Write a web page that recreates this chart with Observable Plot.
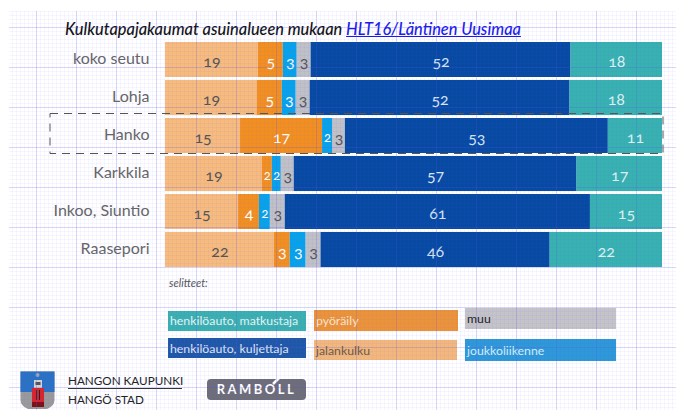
<!DOCTYPE html>
<html><head><meta charset="utf-8">
<script src="https://cdn.jsdelivr.net/npm/d3@7"></script>
<script src="https://cdn.jsdelivr.net/npm/@observablehq/plot@0.6"></script>
<style>
html,body{margin:0;padding:0;background:#fff}
#page{position:relative;width:676px;height:410px;overflow:hidden;font-family:Lato,sans-serif}
#chart{position:absolute;left:0;top:0}
#title{position:absolute;left:65px;top:19px;font:italic 500 16.35px Lato,sans-serif;color:#111;white-space:nowrap}
#title a{color:#1a1aee;text-decoration:underline}
#sel{position:absolute;left:169px;top:276px;font:italic 11px Lato,sans-serif;color:#555}
.lg{position:absolute;box-sizing:border-box;font-size:12.3px;padding-left:2px;display:flex;align-items:center;white-space:nowrap}
#grid{position:absolute;left:9px;top:11px;right:0;bottom:0;pointer-events:none;
background-image:
linear-gradient(to right,rgba(90,80,240,.2) 1px,transparent 1px),
linear-gradient(to bottom,rgba(90,80,240,.2) 1px,transparent 1px),
linear-gradient(to right,rgba(90,80,240,.05) 1px,transparent 1px),
linear-gradient(to bottom,rgba(90,80,240,.05) 1px,transparent 1px);
background-size:40px 40px,40px 40px,4px 4px,4px 4px;
background-position:27px 0,0 16px,3px 0,0 0}
#org{position:absolute;left:68px;top:372px;width:114px;font-size:11.7px;color:#222}
#org div{height:16px;line-height:16px;white-space:nowrap}
#org div:first-child{border-bottom:1px solid #333;padding-bottom:0}
#org div:last-child{padding-top:2px}
#ram{position:absolute;left:207px;top:379px;width:99px;height:21px;border-radius:4px;background:#6d6e78;color:#fff;font:700 13px Lato,sans-serif;letter-spacing:2.5px;text-align:center;line-height:21px}
</style></head><body>
<div id="page">
<div id="chart"></div>
<div id="title">Kulkutapajakaumat asuinalueen mukaan <a href="#">HLT16/Läntinen Uusimaa</a></div>
<div id="sel">selitteet:</div>
<div id="legend"></div>
<div id="org"><div>HANGON KAUPUNKI</div><div>HANGÖ STAD</div></div>
<div id="ram">RAMBOLL</div>
<svg style="position:absolute;left:0;top:0;pointer-events:none" width="676" height="410">
<rect x="50" y="113.5" width="613" height="40" fill="none" stroke="#555" stroke-width="1" stroke-dasharray="8 6"/>
<path d="M273 384L281 376" stroke="#fff" stroke-width="2.5"/>
<g>
<path d="M20.5 371.5H54.5V400Q54.5 406 47 409H28Q20.5 406 20.5 400Z" fill="#9a9a9a"/>
<path d="M20.5 371.5H54.5V392H20.5Z" fill="#2a72c4"/>
<circle cx="37.5" cy="375" r="2" fill="#9aa8b8"/>
<rect x="34" y="380" width="8" height="8" fill="#d4d4d4"/>
<rect x="35.5" y="382" width="5" height="3" fill="#555"/>
<rect x="32" y="388" width="12" height="14" fill="#d8242c"/>
<rect x="36" y="390" width="1" height="10" fill="#222"/><rect x="39" y="390" width="1" height="10" fill="#222"/>
<rect x="32" y="402" width="12" height="5" fill="#7a1216"/>
</g>
</svg>
<div id="grid"></div>
</div>
<script>
const areas = ["koko seutu","Lohja","Hanko","Karkkila","Inkoo, Siuntio","Raasepori"];
const modes = ["jalankulku","pyöräily","joukkoliikenne","muu","henkilöauto, kuljettaja","henkilöauto, matkustaja"];
const colors = ["#f7bb7e","#f28f20","#08a2ea","#c0c1c7","#064aa2","#38b1b1"];
const inkColors = ["#555","#fff","#fff","#555","#d8e4f2","#dff2f1"];
// segment widths as measured in the picture (percent of bar)
const jalankulku = [18.7,18.5,15.1,19.5,14.7,21.9];
const pyoraily   = [5.0,5.0,16.5,2.0,4.2,3.2];
const joukko     = [2.8,2.8,2.0,1.8,2.2,3.2];
const muu        = [2.8,2.8,2.6,2.6,3.0,3.0];
const kuljettaja = [52.3,52.3,52.9,56.9,61.4,46.1];
const matkustaja = [18.4,18.6,10.9,17.2,14.5,22.6];
// printed labels
const lblJalan = [19,19,15,19,15,22];
const lblPyora = [5,5,17,2,4,3];
const lblJouk  = [3,3,2,2,2,3];
const lblMuu   = [3,3,3,3,3,3];
const lblKulj  = [52,52,53,57,61,46];
const lblMatk  = [18,18,11,17,15,22];
const legendRows = [
 {name:"henkilöauto, matkustaja",bg:"#3bb0b0",fg:"#e6f6f5"},
 {name:"henkilöauto, kuljettaja",bg:"#2058a8",fg:"#e0e8f4"},
 {name:"pyöräily",bg:"#ec9339",fg:"#fbe6cf"},
 {name:"jalankulku",bg:"#f3b77c",fg:"#6a5a4a"},
 {name:"muu",bg:"#c4c4c8",fg:"#222"},
 {name:"joukkoliikenne",bg:"#2e98d8",fg:"#d8eefa"}
];
const widths=[jalankulku,pyoraily,joukko,muu,kuljettaja,matkustaja];
const labels=[lblJalan,lblPyora,lblJouk,lblMuu,lblKulj,lblMatk];
const rows=[];
areas.forEach((a,i)=>modes.forEach((m,j)=>rows.push({area:a,mode:m,w:widths[j][i],label:labels[j][i],j})));
const plot=Plot.plot({
 width:676,height:410,marginLeft:165,marginRight:14,marginTop:37,marginBottom:139,
 style:{background:"transparent",fontFamily:"Lato,sans-serif"},
 x:{domain:[0,100],axis:null},
 y:{domain:areas,padding:0.09,label:null},
 color:{domain:modes,range:colors},
 marks:[
  Plot.barX(rows,{x:"w",y:"area",fill:"mode",order:null}),
  Plot.text(rows,Plot.stackX({x:"w",y:"area",z:"mode",order:null,text:d=>d.label,
    fill:d=>inkColors[d.j],fontSize:d=>d.w<2.5?13:16,dy:2})),
  Plot.axisY({tickSize:0,tickPadding:16,label:null,fill:"#666",dy:-1})
 ]
});
plot.querySelectorAll("text").forEach(t=>t.style.fontVariantNumeric="oldstyle-nums");
plot.querySelectorAll("[aria-label='y-axis tick label'] text").forEach(t=>{t.style.fontSize="16px";t.style.fontVariantNumeric="normal"});
document.getElementById("chart").append(plot);
const boxes=[[168,311,138,19.5],[168,338,138,20],[314,310,143.5,21],[314,340,143,20],[465,308,151,21],[465,339,151,22]];
const lg=document.getElementById("legend");
legendRows.forEach((r,i)=>{const d=document.createElement("div");d.className="lg";
 const b=boxes[i];d.style.cssText=`left:${b[0]}px;top:${b[1]}px;width:${b[2]}px;height:${b[3]}px;background:${r.bg};color:${r.fg}`;
 d.textContent=r.name;lg.append(d);});
</script>
</body></html>
